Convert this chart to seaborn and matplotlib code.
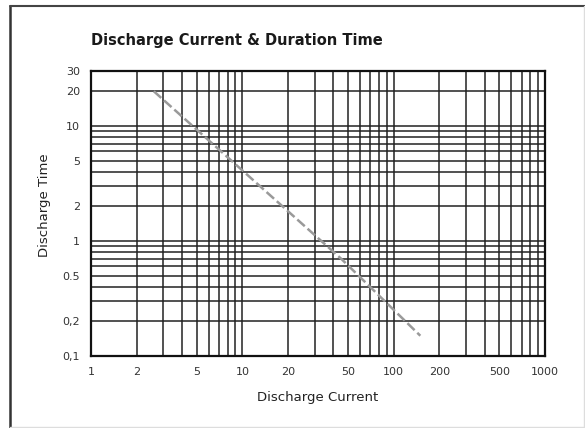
import numpy as np
import pandas as pd
import matplotlib
matplotlib.use("Agg")
import matplotlib.pyplot as plt
from matplotlib.lines import Line2D
from matplotlib.ticker import FixedLocator, NullFormatter
import seaborn as sns

# values
current = [2.6, 45, 150]
duration = [20, 0.7, 0.15]

x_ticks = [1, 2, 5, 10, 20, 50, 100, 200, 500, 1000]
x_labels = ["1", "2", "5", "10", "20", "50", "100", "200", "500", "1000"]
y_ticks = [0.1, 0.2, 0.5, 1, 2, 5, 10, 20, 30]
y_labels = ["0,1", "0,2", "0.5", "1", "2", "5", "10", "20", "30"]

x_grid = list(range(1, 10)) + list(range(10, 100, 10)) + list(range(100, 1001, 100))
y_grid = ([round(v * 0.1, 1) for v in range(1, 10)] + list(range(1, 10))
          + [10, 20, 30])

sns.set_style("white")
plt.rcParams["font.family"] = ["DejaVu Sans"]

W, H = 585, 428
fig = plt.figure(figsize=(5.85, 4.28), dpi=100)
ax = fig.add_axes([91 / W, 1 - 356 / H, 454 / W, 285 / H])

df = pd.DataFrame({"current": current, "duration": duration})
sns.lineplot(data=df, x="current", y="duration", ax=ax, color="#9a9a9a",
             linewidth=1.8, linestyle=(0, (4, 1.5)), zorder=3)

ax.set_xscale("log")
ax.set_yscale("log")
ax.set_xlim(1, 1000)
ax.set_ylim(0.1, 30)

for xv in x_grid:
    ax.axvline(xv, color="#222222", linewidth=1.1, zorder=1)
for yv in y_grid:
    ax.axhline(yv, color="#222222", linewidth=1.1, zorder=1)

ax.xaxis.set_major_locator(FixedLocator(x_ticks))
ax.set_xticklabels(x_labels)
ax.xaxis.set_minor_formatter(NullFormatter())
ax.yaxis.set_major_locator(FixedLocator(y_ticks))
ax.set_yticklabels(y_labels)
ax.yaxis.set_minor_formatter(NullFormatter())
ax.tick_params(axis="both", which="both", length=0, labelsize=8,
               labelcolor="#333333")
ax.tick_params(axis="x", pad=8)
ax.tick_params(axis="y", pad=8)

for sp in ax.spines.values():
    sp.set_color("#111111")
    sp.set_linewidth(1.6)

ax.set_xlabel("Discharge Current", fontsize=9.5, color="#222222")
ax.xaxis.set_label_coords(0.5, -(397 - 356) / 285 + 0.02)
ax.set_ylabel("Discharge Time", fontsize=9.5, color="#222222")
ax.yaxis.set_label_coords(-(91 - 51) / 454, (356 - 205) / 285)

fig.text(91 / W, 1 - 40 / H, "Discharge Current & Duration Time",
         fontsize=10.5, fontweight="bold", color="#1a1a1a", va="center", ha="left")

# page frame: dark left/top edges, faint right/bottom
fig.add_artist(Line2D([10 / W, 10 / W], [0, 1 - 6 / H], transform=fig.transFigure,
                      color="#333333", linewidth=1.8))
fig.add_artist(Line2D([10 / W, 1], [1 - 6 / H, 1 - 6 / H], transform=fig.transFigure,
                      color="#444444", linewidth=1.5))
fig.add_artist(Line2D([584 / W, 584 / W], [0, 1 - 6 / H], transform=fig.transFigure,
                      color="#dddddd", linewidth=1))
fig.add_artist(Line2D([10 / W, 1], [1.5 / H, 1.5 / H], transform=fig.transFigure,
                      color="#dddddd", linewidth=1))

fig.savefig("out.png", dpi=100)
